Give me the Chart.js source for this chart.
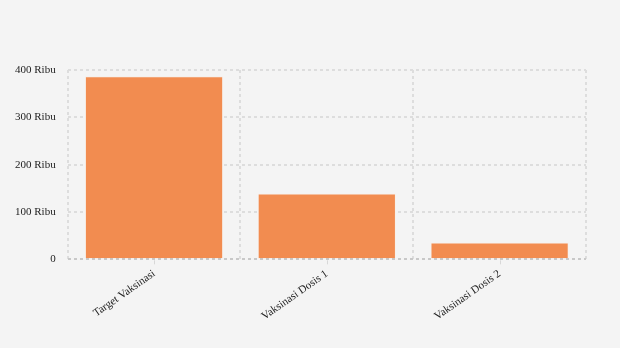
<!DOCTYPE html>
<html>
<head>
<meta charset="utf-8">
<script src="https://cdn.jsdelivr.net/npm/chart.js@4"></script>
<style>
  html, body { margin: 0; padding: 0; background: #f4f4f4; }
  #wrap { width: 620px; height: 348px; }
</style>
</head>
<body>
<div id="wrap"><canvas id="my-chart"></canvas></div>
<script>
'use strict';

// ******** DATA **************
let categories = ['Target Vaksinasi', 'Vaksinasi Dosis 1', 'Vaksinasi Dosis 2'];
let vaccineValues = [387000, 139000, 35700];
let yTicks = [0, 100000, 200000, 300000, 400000];

// ********* CHART ****************
let canvasElem = document.getElementById('my-chart');
let gridDash = [3, 3];

// small tick marks under each category centre
let centreTicks = {
  id: 'centreTicks',
  afterDraw: function (chart) {
    let xs = chart.scales.x;
    let ctx = chart.ctx;
    ctx.save();
    ctx.strokeStyle = '#d8d8d8';
    ctx.lineWidth = 1;
    for (let i = 0; i < categories.length; i++) {
      let px = Math.round(xs.getPixelForValue(i)) + 0.5;
      ctx.beginPath();
      ctx.moveTo(px, xs.top + 1);
      ctx.lineTo(px, xs.top + 5);
      ctx.stroke();
    }
    ctx.restore();
  }
};

new Chart(canvasElem, {
  type: 'bar',
  data: {
    labels: categories,
    datasets: [{
      data: vaccineValues,
      backgroundColor: '#f28c50',
      borderColor: '#f7f0ea',
      borderWidth: 1,
      categoryPercentage: 0.8,
      barPercentage: 1
    }]
  },
  options: {
    responsive: true,
    maintainAspectRatio: false,
    animation: false,
    layout: { padding: { top: 70, right: 34, left: 3, bottom: 17 } },
    plugins: {
      legend: { display: false },
      tooltip: { enabled: false }
    },
    scales: {
      x: {
        grid: {
          color: '#dddddd',
          lineWidth: 2,
          offset: true,
          drawTicks: false
        },
        border: { display: false, dash: gridDash },
        ticks: {
          color: '#222',
          padding: 8,
          font: { family: 'Liberation Serif', size: 11 },
          maxRotation: 35,
          minRotation: 35
        }
      },
      y: {
        min: 0,
        max: 400000,
        afterBuildTicks: function (axis) {
          axis.ticks = yTicks.map(function (v) { return { value: v }; });
        },
        grid: {
          color: function (c) { return c.tick && c.tick.value === 0 ? '#c8c8c8' : '#dddddd'; },
          lineWidth: 2,
          drawTicks: false
        },
        border: { display: false, dash: gridDash },
        ticks: {
          color: '#222',
          padding: 12,
          font: { family: 'Liberation Serif', size: 11 },
          callback: function (v) {
            return v === 0 ? '0' : (v / 1000) + ' Ribu';
          }
        }
      }
    }
  },
  plugins: [centreTicks]
});
</script>
</body>
</html>
